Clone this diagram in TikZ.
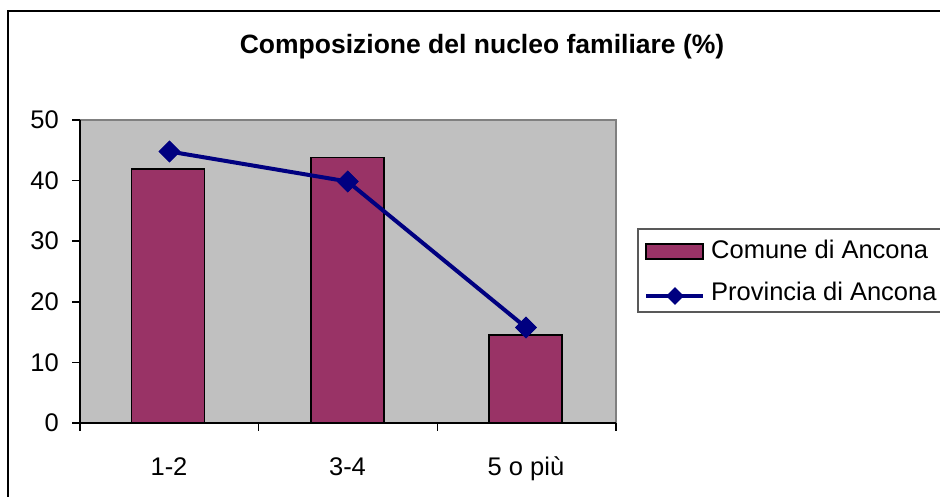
\documentclass[tikz,border=0pt]{standalone}
\usepackage{fontspec}
\setmainfont{Liberation Sans}
\usetikzlibrary{shapes.geometric}
\definecolor{plum}{RGB}{153,51,102}
\definecolor{navyc}{RGB}{0,0,128}
\definecolor{plotgray}{RGB}{192,192,192}
\definecolor{bordergray}{RGB}{128,128,128}
\begin{document}
\begin{tikzpicture}[x=1pt,y=-1pt,
  lbl/.style={inner sep=0pt,font=\fontsize{25.5}{30}\selectfont},
  bar/.style={fill=plum,draw=black,line width=1.8pt},
  dmk/.style={diamond,fill=navyc,inner sep=0pt,minimum width=22pt,minimum height=22pt},
  dmkl/.style={diamond,fill=navyc,inner sep=0pt,minimum width=18pt,minimum height=18pt},
  series/.style={draw=navyc,line width=4pt},
  axis/.style={draw=black,line width=1.4pt}]
\useasboundingbox (0,0) rectangle (940,497);
\fill[white] (0,0) rectangle (940,497);
% outer frame
\draw[line width=1.6pt] (8,497) -- (8,11) -- (940,11);
% title
\node[inner sep=0pt,anchor=base,font=\fontsize{26.5}{30}\selectfont\bfseries] (title) at (482,54) {Composizione del nucleo familiare (\%)};
% plot area
\fill[plotgray] (80,120) rectangle (616,423);
\draw[bordergray,line width=1.2pt] (80,120) -- (616,120) -- (616,423);
% bars
\draw[bar] (131.5,423) rectangle (204.5,169.1);
\draw[bar] (310.7,423) rectangle (383.7,157.6);
\draw[bar] (489.2,423) rectangle (562.2,335.1);
% axes
\draw[axis] (80,120) -- (80,431);
\draw[axis] (72,423) -- (616,423);
\foreach \yy in {120,180.6,241.2,301.8,362.4} \draw[axis] (72,\yy) -- (80,\yy);
\foreach \xx in {258.7,437.3,616} \draw[axis] (\xx,423) -- (\xx,431);
% y labels
\node[lbl,anchor=east] (y0) at (59,423) {0};
\node[lbl,anchor=east] (y10) at (59,362.4) {10};
\node[lbl,anchor=east] (y20) at (59,301.8) {20};
\node[lbl,anchor=east] (y30) at (59,241.2) {30};
\node[lbl,anchor=east] (y40) at (59,180.6) {40};
\node[lbl,anchor=east] (y50) at (59,120) {50};
% x labels
\node[lbl,anchor=base] (x1) at (169,475) {1-2};
\node[lbl,anchor=base] (x2) at (347.5,475) {3-4};
\node[lbl,anchor=base] (x3) at (526,475) {5 o più};
% series line
\node[dmk] (p1) at (169.5,151.5) {};
\node[dmk] (p2) at (347.7,181.5) {};
\node[dmk] (p3) at (526,327.5) {};
\draw[series] (p1.center) -- (p2.center) -- (p3.center);
\node[dmk] at (p1) {};
\node[dmk] at (p2) {};
\node[dmk] at (p3) {};
% legend
\draw[draw=black!65,line width=1.3pt] (945,229) -- (638,229) -- (638,312) -- (945,312);
\draw[fill=plum,draw=black,line width=1.6pt] (646,244) rectangle (703,259);
\node[lbl,anchor=base west] (l1) at (711,258.5) {Comune di Ancona};
\coordinate (la) at (646,296);
\coordinate (lb) at (703,296);
\draw[series,line width=3.5pt] (la) -- (lb);
\node[dmkl] (lm) at (675,296) {};
\node[lbl,anchor=base west] (l2) at (711,300) {Provincia di Ancona};
\end{tikzpicture}
\end{document}
